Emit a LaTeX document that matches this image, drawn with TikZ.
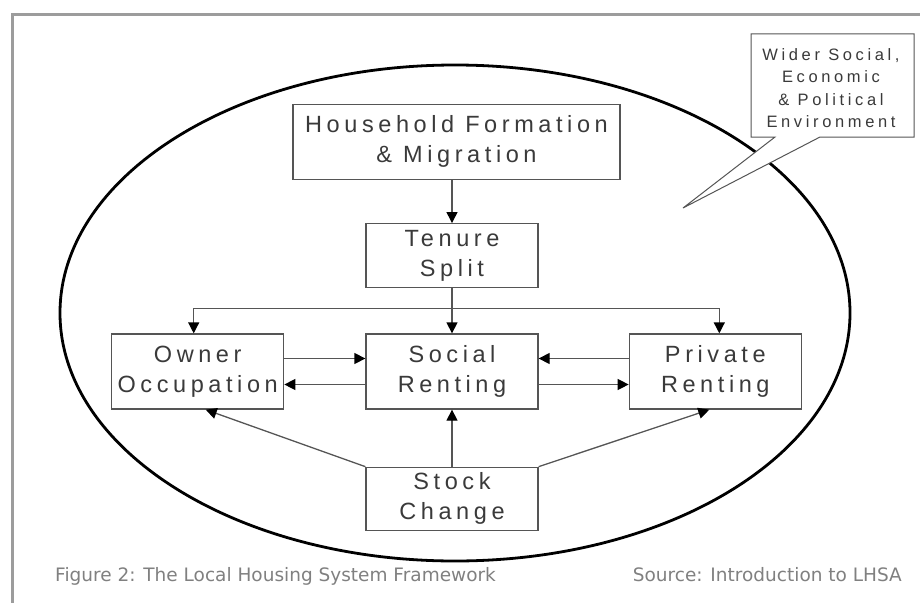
\documentclass[tikz,border=0pt]{standalone}
\usepackage{fontspec}
\setmainfont{Liberation Sans}
\newfontfamily\boxfont[LetterSpace=19.5]{Liberation Sans}
\newfontfamily\notefont[LetterSpace=22]{Liberation Sans}
\newfontfamily\capfont{DejaVu Sans}
\usepackage{xcolor}
\usepackage{tikz}
\usetikzlibrary{arrows.meta, positioning, calc}

\definecolor{framegray}{HTML}{9C9C9C}
\definecolor{linegray}{HTML}{555555}
\definecolor{textgray}{HTML}{3A3A3A}
\definecolor{capgray}{HTML}{808080}

\begin{document}
\begin{tikzpicture}[
    x=1pt, y=-1pt,
    stagebox/.style={rectangle, draw=linegray, line width=1.3pt, fill=white, minimum width=172pt, minimum height=75pt, inner sep=0pt, text centered, text=textgray, font=\boxfont\fontsize{23.5}{30}\selectfont, align=center},
    notetext/.style={text=textgray, font=\notefont\fontsize{16.5}{22.5}\selectfont, align=center, inner sep=0pt},
    captext/.style={text=capgray, font=\capfont\fontsize{18.5}{22}\selectfont, inner sep=0pt},
    arrow/.style={-{Triangle[length=11pt, width=11pt, color=black]}, draw=linegray, line width=1.3pt},
]
\useasboundingbox (0,0) rectangle (920,602);

% page frame
\draw[framegray, line width=3pt] (12,610) -- (12,15) -- (925,15);

% wider environment
\draw[line width=2.8pt] (455,313) ellipse [x radius=395, y radius=248];

% callout
\draw[linegray, line width=1pt, fill=white] (914,34) -- (751,34) -- (751,137) -- (775,137) -- (683,208) -- (820,137) -- (914,137) -- cycle;
\node[notetext] (wider) at (831,88) {Wider Social,\\Economic\\\& Political\\Environment};

% boxes
\node[stagebox] (social) at (452,371.5) {Social\\Renting};
\node[stagebox, left=81pt of social] (owner) {Owner\\Occupation};
\node[stagebox, right=90pt of social] (private) {Private\\Renting};
\node[stagebox, minimum height=64pt, above=45pt of social] (tenure) {Tenure\\Split};
\node[stagebox, minimum width=327pt, above=43pt of tenure, xshift=4.5pt] (house) {Household Formation\\\& Migration};
\node[stagebox, minimum height=63pt, below=57pt of social] (stock) {Stock\\Change};

\coordinate (split) at ($(tenure.south)!0.45!(social.north)$);

% flows
\draw[arrow] (tenure.north |- house.south) -- (tenure.north);
\draw[arrow] (tenure) -- (social);
\draw[arrow] (split) -| ([xshift=-4pt]owner.north);
\draw[arrow] (split) -| ([xshift=4pt]private.north);
\draw[arrow] ([yshift=13pt]owner.east) -- ([yshift=13pt]social.west);
\draw[arrow] ([yshift=-13pt]social.west) -- ([yshift=-13pt]owner.east);
\draw[arrow] ([yshift=13pt]private.west) -- ([yshift=13pt]social.east);
\draw[arrow] ([yshift=-13pt]social.east) -- ([yshift=-13pt]private.west);
\draw[arrow] (stock) -- (social);
\draw[arrow] (stock.north west) -- ([xshift=8pt]owner.south);
\draw[arrow] (stock.north east) -- ([xshift=-6pt]private.south);

% caption line
\node[captext, anchor=base west] (figcap) at (55,581) {Figure 2: The Local Housing System Framework};
\node[captext, anchor=base east] (source) at (902,581) {Source: Introduction to LHSA};
\end{tikzpicture}
\end{document}
